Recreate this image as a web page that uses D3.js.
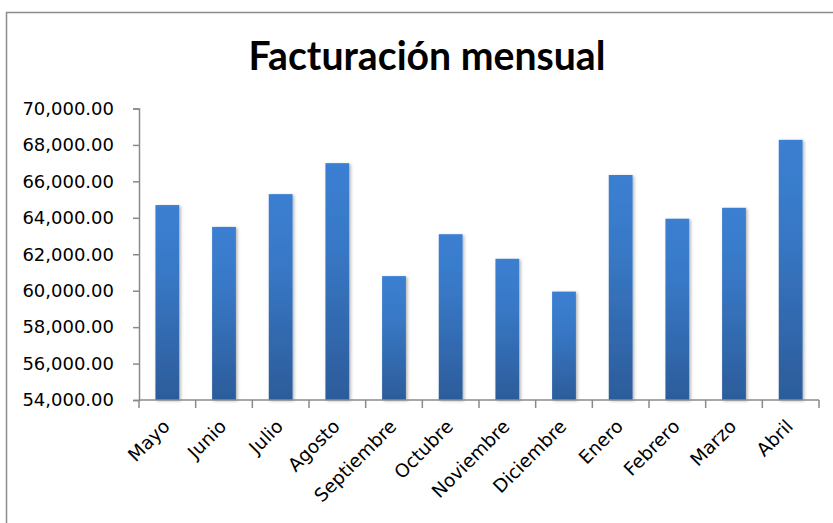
<!DOCTYPE html>
<html>
<head>
<meta charset="utf-8">
<script src="https://cdn.jsdelivr.net/npm/d3@7"></script>
<style>
  body { margin: 0; background: #fff; }
  svg { display: block; }
</style>
</head>
<body>
<div id="chart"></div>
<script>
// chart values
var months = ["Mayo", "Junio", "Julio", "Agosto", "Septiembre", "Octubre",
              "Noviembre", "Diciembre", "Enero", "Febrero", "Marzo", "Abril"];
var billing = [64700, 63500, 65300, 67000, 60800, 63100,
               61750, 59950, 66350, 63950, 64550, 68280];
var yTicks = [54000, 56000, 58000, 60000, 62000, 64000, 66000, 68000, 70000];
var chartTitle = "Facturación mensual";

var width = 833, height = 523;
var margin = {top: 108.5, left: 139, right: 14, bottom: 123};

var svg = d3.select("#chart").append("svg")
  .attr("width", width)
  .attr("height", height);

var defs = svg.append("defs");
var grad = defs.append("linearGradient")
  .attr("id", "barGrad")
  .attr("x1", 0).attr("y1", 0).attr("x2", 0).attr("y2", 1);
grad.append("stop").attr("offset", "0%").attr("stop-color", "#3b7fd2");
grad.append("stop").attr("offset", "35%").attr("stop-color", "#3878c6");
grad.append("stop").attr("offset", "100%").attr("stop-color", "#2c5c9a");

var shadow = defs.append("filter").attr("id", "shadow")
  .attr("x", "-30%").attr("y", "-10%").attr("width", "160%").attr("height", "120%");
shadow.append("feDropShadow")
  .attr("dx", 1.5).attr("dy", 1).attr("stdDeviation", 1.5)
  .attr("flood-color", "#000").attr("flood-opacity", 0.3);

// outer chart border
svg.append("rect")
  .attr("x", 6.5).attr("y", 12.5)
  .attr("width", width + 10).attr("height", height + 10)
  .attr("fill", "none")
  .attr("stroke", "#8c8c8c")
  .attr("stroke-width", 1.5);

// title
var title = svg.append("text")
  .attr("x", 427)
  .attr("y", 70)
  .attr("text-anchor", "middle")
  .style("font-family", "Lato, 'Open Sans', sans-serif")
  .style("font-weight", "bold")
  .style("font-size", "36px")
  .attr("fill", "#000")
  .text(chartTitle);
// fit title to its width in the picture
var tw = title.node().getComputedTextLength();
title.style("font-size", (36 * 357 / tw) + "px");

var x = d3.scaleBand()
  .domain(months)
  .range([margin.left, width - margin.right])
  .paddingInner(0.58)
  .paddingOuter(0.29);

var y = d3.scaleLinear()
  .domain([54000, 70000])
  .range([height - margin.bottom, margin.top]);

var baseY = y(54000);

// gridlines
svg.append("g")
  .selectAll("line")
  .data(yTicks.slice(1))
  .enter()
  .append("line")
  .attr("x1", margin.left).attr("x2", width - margin.right)
  .attr("y1", function(d) { return y(d); })
  .attr("y2", function(d) { return y(d); })
  .attr("stroke", "#8a8a8a")
  .attr("stroke-width", 1.5)
  .attr("filter", "url(#shadow)");

// bars
svg.append("g")
  .selectAll("rect")
  .data(billing)
  .enter()
  .append("rect")
  .attr("x", function(d, i) { return x(months[i]); })
  .attr("y", function(d) { return y(d); })
  .attr("width", x.bandwidth())
  .attr("height", function(d) { return baseY - y(d); })
  .attr("fill", "url(#barGrad)")
  .attr("filter", "url(#shadow)");

// y axis
var yAxis = d3.axisLeft(y)
  .tickValues(yTicks)
  .tickSize(6)
  .tickPadding(19)
  .tickFormat(d3.format(",.2f"));

var gy = svg.append("g")
  .attr("transform", "translate(" + margin.left + ",0)")
  .call(yAxis);
gy.select(".domain").attr("stroke", "#8a8a8a").attr("stroke-width", 1.5);
gy.selectAll(".tick line").attr("stroke", "#8a8a8a").attr("stroke-width", 1.5);
gy.selectAll(".tick text")
  .attr("fill", "#000")
  .style("font-family", "'DejaVu Sans', sans-serif")
  .style("font-size", "18px");

// x axis, ticks sit between categories
var xEdges = d3.range(months.length + 1).map(function(i) {
  return margin.left + i * (width - margin.right - margin.left) / months.length;
});

svg.append("line")
  .attr("x1", margin.left).attr("x2", width - margin.right)
  .attr("y1", baseY).attr("y2", baseY)
  .attr("stroke", "#8a8a8a").attr("stroke-width", 1.5);

svg.append("g")
  .selectAll("line")
  .data(xEdges)
  .enter()
  .append("line")
  .attr("x1", function(d) { return d; })
  .attr("x2", function(d) { return d; })
  .attr("y1", baseY).attr("y2", baseY + 8)
  .attr("stroke", "#8a8a8a").attr("stroke-width", 1.5);

svg.append("g")
  .selectAll("text")
  .data(months)
  .enter()
  .append("text")
  .attr("text-anchor", "end")
  .attr("transform", function(d) {
    var cx = x(d) + x.bandwidth() / 2 - 1;
    return "translate(" + cx + "," + (baseY + 23) + ") rotate(-45)";
  })
  .attr("dy", "0.35em")
  .attr("fill", "#000")
  .style("font-family", "'DejaVu Sans', sans-serif")
  .style("font-size", "18.5px")
  .text(function(d) { return d; });
</script>
</body>
</html>
